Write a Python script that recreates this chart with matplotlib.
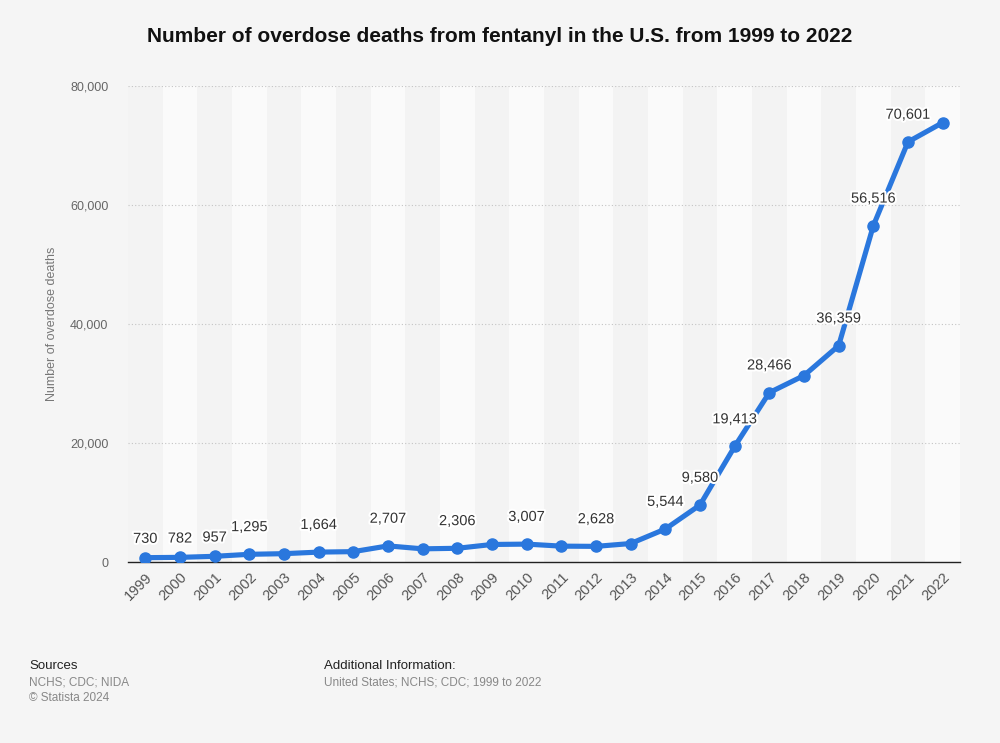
import matplotlib
matplotlib.use("Agg")
import matplotlib.pyplot as plt
import matplotlib.patheffects as pe
from matplotlib.ticker import FuncFormatter

# Data
years = [str(y) for y in range(1999, 2023)]
deaths = [730, 782, 957, 1295, 1400, 1664, 1742, 2707, 2213, 2306, 2946, 3007,
          2666, 2628, 3105, 5544, 9580, 19413, 28466, 31335, 36359, 56516, 70601, 73838]
# years that carry a value label in the original
labelled = ["1999", "2000", "2001", "2002", "2004", "2006", "2008", "2010", "2012",
            "2014", "2015", "2016", "2017", "2019", "2020", "2021"]
y_ticks = [0, 20000, 40000, 60000, 80000]

BG = "#f5f5f5"
LINE = "#2a77dd"

plt.rcParams['font.family'] = ['Liberation Sans', 'DejaVu Sans']

fig = plt.figure(figsize=(10, 7.43), dpi=100, facecolor=BG)
ax = fig.add_axes([0.128, 0.2436, 0.832, 0.6407])
ax.set_facecolor(BG)

x = list(range(len(years)))

# alternating column bands
for i in x:
    color = "#fafafa" if i % 2 == 1 else "#f3f3f3"
    ax.axvspan(i - 0.5, i + 0.5, color=color, zorder=0, lw=0)

ax.plot(x, deaths, color=LINE, lw=3.7, marker="o", markersize=8, zorder=3,
        solid_capstyle="round")

for i, (yr, v) in enumerate(zip(years, deaths)):
    if yr in labelled:
        # the first few labels sit a little closer to the line
        off = 8.5 if i < 3 else 14.5
        ax.annotate(f"{v:,}", (i, v), xytext=(0, off), textcoords="offset points",
                    ha="center", va="bottom", fontsize=10.5, color="#333333", zorder=4,
                    path_effects=[pe.withStroke(linewidth=3, foreground="white")])

ax.set_xlim(-0.5, len(years) - 0.5)
ax.set_ylim(0, 80000)
ax.set_yticks(y_ticks)
ax.yaxis.set_major_formatter(FuncFormatter(lambda v, p: f"{int(v):,}"))
ax.grid(axis="y", color="#c4c4c4", linestyle=(0, (1, 2)), lw=0.8, zorder=1)
ax.set_axisbelow(False)

ax.set_xticks(x)
ax.set_xticklabels(years, rotation=45, ha="right", rotation_mode="anchor",
                   fontsize=10.5, color="#555555")
ax.tick_params(axis="x", length=0, pad=6)
ax.tick_params(axis="y", length=0, pad=14, labelsize=9, labelcolor="#666666")

for s in ["top", "right", "left"]:
    ax.spines[s].set_visible(False)
ax.spines["bottom"].set_color("#222222")
ax.spines["bottom"].set_linewidth(1.0)
ax.spines["bottom"].set_zorder(2)

ax.set_ylabel("Number of overdose deaths", fontsize=9, color="#777777", labelpad=9)

fig.text(0.5, 0.951, "Number of overdose deaths from fentanyl in the U.S. from 1999 to 2022",
         ha="center", va="center", fontsize=15, fontweight="bold", color="#111111")

# footer
fig.text(0.029, 0.104, "Sources", fontsize=9.5, color="#222222", va="center")
fig.text(0.029, 0.081, "NCHS; CDC; NIDA", fontsize=8.5, color="#888888", va="center")
fig.text(0.029, 0.061, "\u00a9 Statista 2024", fontsize=8.5, color="#888888", va="center")
fig.text(0.324, 0.104, "Additional Information:", fontsize=9.5, color="#222222", va="center")
fig.text(0.324, 0.081, "United States; NCHS; CDC; 1999 to 2022", fontsize=8.5,
         color="#888888", va="center")

fig.savefig("out.png", dpi=100, facecolor=BG)
